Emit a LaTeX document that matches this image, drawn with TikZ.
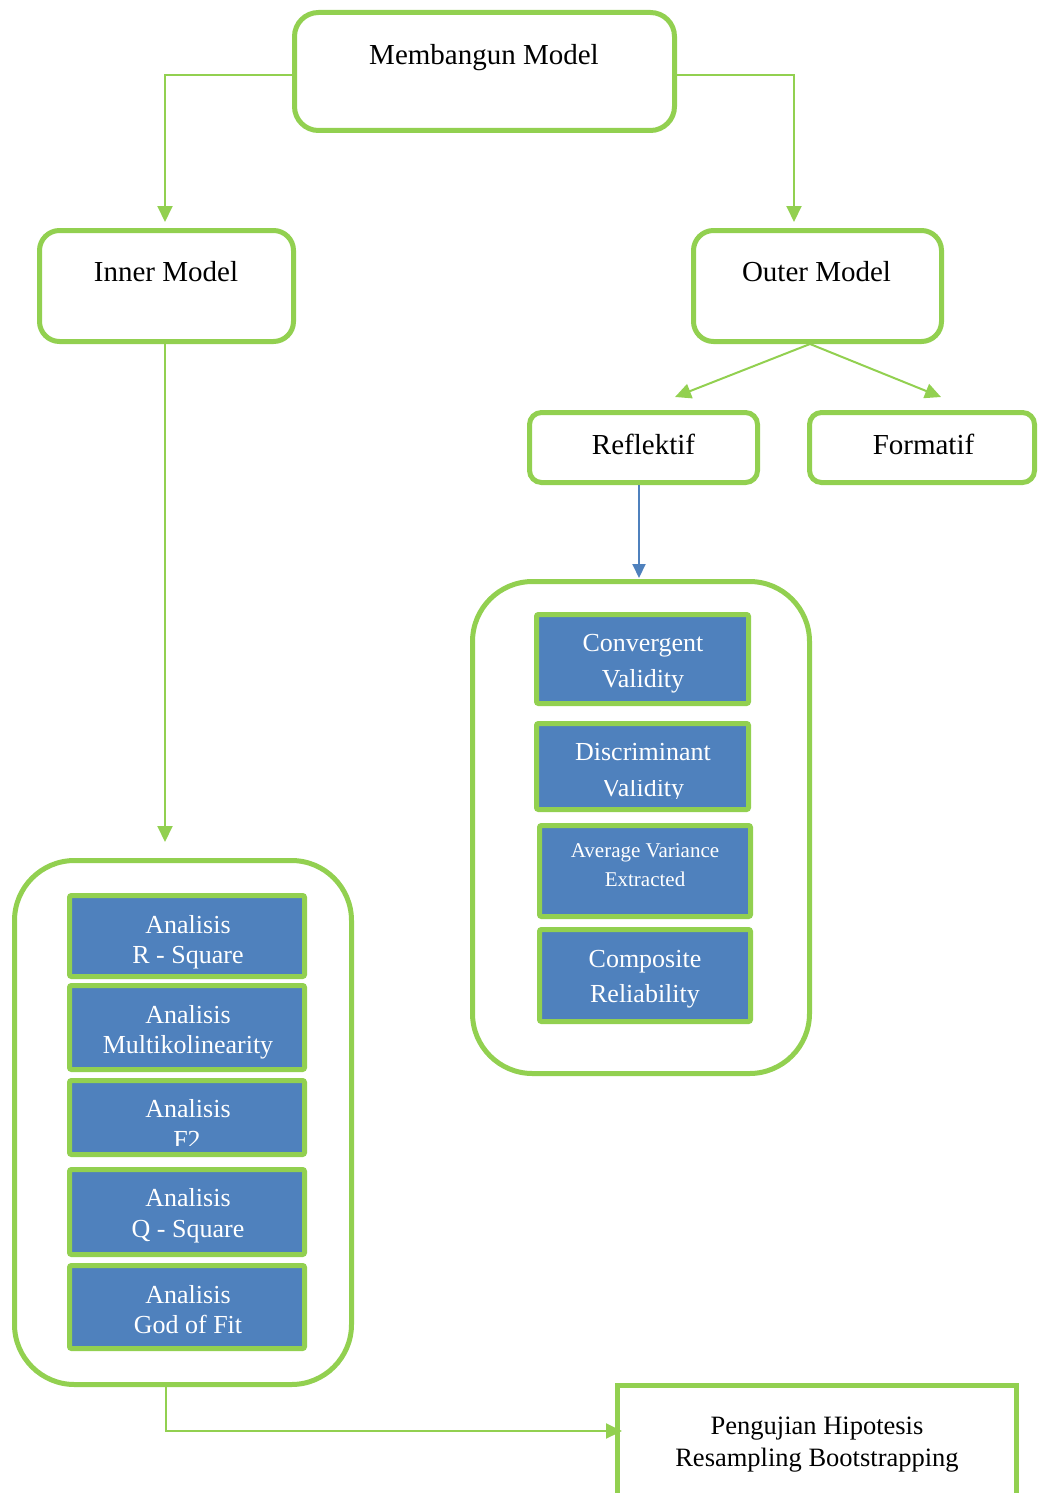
\documentclass[tikz,border=0pt]{standalone}
\usepackage{fontspec}
\setmainfont{Liberation Serif}
\usetikzlibrary{arrows.meta}
\definecolor{grn}{HTML}{92D050}
\definecolor{blu}{HTML}{4F81BD}
\begin{document}
\begin{tikzpicture}[x=1pt,y=-1pt,
  rbox/.style={draw=grn, line width=5pt, fill=white, inner sep=0pt},
  bbox/.style={draw=grn, line width=5pt, fill=blu, inner sep=0pt, rounded corners=2pt},
  cont/.style={draw=grn, line width=5pt, inner sep=0pt, rounded corners=60pt},
  conn/.style={draw=grn, line width=2pt, -{Triangle[width=15pt,length=16pt]}},
  bconn/.style={draw=blu, line width=2pt, -{Triangle[width=13pt,length=14pt]}},
  big/.style={font=\fontsize{29}{34}\selectfont, anchor=base, inner sep=0pt},
  wt/.style={font=\fontsize{26}{31}\selectfont, text=white, anchor=base, inner sep=0pt},
  st/.style={font=\fontsize{21}{25}\selectfont, text=white, anchor=base, inner sep=0pt},
  pt/.style={font=\fontsize{26.5}{31}\selectfont, anchor=base, inner sep=0pt}
]
\useasboundingbox (0,0) rectangle (1037,1493);

% top level boxes
\node[rbox, rounded corners=24pt, minimum width=380pt, minimum height=118pt] (top) at (484.5,71.5) {};
\node[big] (topT) at (484,65) {Membangun Model};
\node[rbox, rounded corners=20pt, minimum width=254pt, minimum height=111pt] (inner) at (166.5,286) {};
\node[big] (innerT) at (166,281) {Inner Model};
\node[rbox, rounded corners=20pt, minimum width=248pt, minimum height=111pt] (outer) at (817.5,286) {};
\node[big] (outerT) at (816.5,281) {Outer Model};
\node[rbox, rounded corners=12pt, minimum width=228pt, minimum height=70pt] (refl) at (643.5,447.5) {};
\node[big] (reflT) at (643.5,454) {Reflektif};
\node[rbox, rounded corners=12pt, minimum width=225pt, minimum height=70pt] (form) at (922,447.5) {};
\node[big] (formT) at (923.5,454) {Formatif};

% containers
\node[cont, minimum width=337pt, minimum height=492pt] (rcont) at (641,827.5) {};
\node[cont, minimum width=337pt, minimum height=524pt] (lcont) at (183,1122.5) {};

% right blue boxes
\node[bbox, minimum width=212pt, minimum height=89pt] (conv) at (642.5,659) {};
\node[wt] (convA) at (643,651) {Convergent};
\node[wt] (convB) at (643,687) {Validity};
\node[bbox, minimum width=212pt, minimum height=86pt] (disc) at (642.5,766.5) {};
\node[wt] (discA) at (643,760) {Discriminant};
\begin{scope}
\clip (540,780) rectangle (746,798);
\node[wt] (discB) at (643,796) {Validity};
\end{scope}
\node[bbox, minimum width=211pt, minimum height=91pt] (ave) at (645,871) {};
\node[st] (aveA) at (645,857) {Average Variance};
\node[st] (aveB) at (645,886) {Extracted};
\node[bbox, minimum width=211pt, minimum height=92pt] (comp) at (645,975.5) {};
\node[wt] (compA) at (645,967) {Composite};
\node[wt] (compB) at (645,1002) {Reliability};

% left blue boxes
\node[bbox, minimum width=235pt, minimum height=81pt] (rsq) at (187,936) {};
\node[wt] (rsqA) at (188,933) {Analisis};
\node[wt] (rsqB) at (188,963) {R - Square};
\node[bbox, minimum width=235pt, minimum height=84pt] (mult) at (187,1027.5) {};
\node[wt] (multA) at (188,1023) {Analisis};
\node[wt] (multB) at (188,1053) {Multikolinearity};
\node[bbox, minimum width=235pt, minimum height=74pt] (ftwo) at (187,1117.5) {};
\node[wt] (ftwoA) at (188,1117) {Analisis};
\begin{scope}
\clip (72,1125) rectangle (302,1145);
\node[wt] (ftwoB) at (187,1148) {F2};
\end{scope}
\node[bbox, minimum width=235pt, minimum height=85pt] (qsq) at (187,1212) {};
\node[wt] (qsqA) at (188,1206) {Analisis};
\node[wt] (qsqB) at (188,1237) {Q - Square};
\node[bbox, minimum width=235pt, minimum height=83pt] (god) at (187,1307) {};
\node[wt] (godA) at (188,1303) {Analisis};
\node[wt] (godB) at (188,1333) {God of Fit};

% final box
\node[rbox, minimum width=399pt, minimum height=135pt] (hyp) at (817,1453) {};
\node[pt] (hypA) at (817,1434) {Pengujian Hipotesis};
\node[pt] (hypB) at (817,1466) {Resampling Bootstrapping};

% connectors
\coordinate (c1) at (165,222);
\coordinate (c2) at (794,222);
\draw[conn] (top.west |- 0,75) -| (c1);
\draw[conn] (top.east |- 0,75) -| (c2);
\coordinate (c3) at (165,842);
\draw[conn] (inner.south -| c3) -- (c3);
\coordinate (o0) at (810,344);
\coordinate (r0) at (675,397);
\coordinate (f0) at (941,397);
\draw[conn] (o0) -- (r0);
\draw[conn] (o0) -- (f0);
\coordinate (b0) at (639,578);
\draw[bconn] (refl.south -| b0) -- (b0);
\coordinate (l0) at (166,1387);
\coordinate (p0) at (622,1431);
\draw[conn] (l0) |- (p0);
\end{tikzpicture}
\end{document}
